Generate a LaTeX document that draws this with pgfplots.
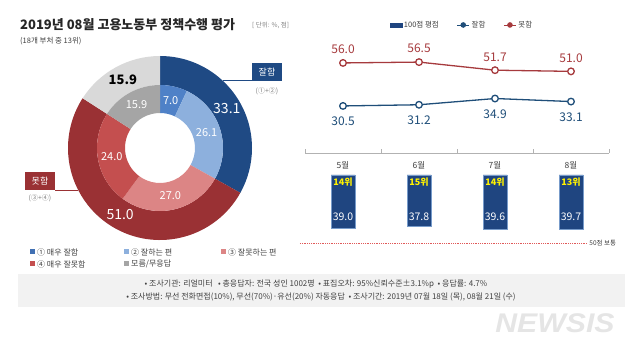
\documentclass[border=0pt]{standalone}
\usepackage{fontspec}
\setmainfont{Noto Sans CJK KR}
\newfontfamily\logofont{Liberation Sans}
\usepackage{pgfplots}
\pgfplotsset{compat=1.18}
\usepackage{pgfplotstable}
\pgfplotsset{/pgf/number format/assume math mode=true}

\definecolor{navyA}{HTML}{1F4A84}
\definecolor{blueB}{HTML}{4F81C7}
\definecolor{blueC}{HTML}{8DB0DD}
\definecolor{redC}{HTML}{DC8585}
\definecolor{redB}{HTML}{C44F4F}
\definecolor{redA}{HTML}{9A3134}
\definecolor{grayA}{HTML}{D9D9D9}
\definecolor{grayB}{HTML}{A5A5A5}
\definecolor{lineBlue}{HTML}{1F4E79}
\definecolor{lineRed}{HTML}{A63A3D}
\definecolor{barBlue}{HTML}{1F4580}
\definecolor{dotRed}{HTML}{E05A5A}
\definecolor{txt}{HTML}{404040}
\definecolor{foot}{HTML}{F2F2F2}

\pgfplotsset{circlegend/.style={legend image code/.code={\draw[##1, mark size=2.3pt, line width=0.9pt, mark options={line width=0.9pt}, mark repeat=2, mark phase=2] plot coordinates {(0pt,0pt) (6pt,0pt) (12pt,0pt)};}}}

% donut segment: colour, start(%), value(%), inner r, outer r, label style
\newcommand{\seg}[6]{%
 \fill[#1] ([shift={({90-3.6*(#2)}:#5pt)}]axis cs:0,0) arc[start angle={90-3.6*(#2)}, end angle={90-3.6*(#2+#3)}, radius=#5pt] -- ([shift={({90-3.6*(#2+#3)}:#4pt)}]axis cs:0,0) arc[start angle={90-3.6*(#2+#3)}, end angle={90-3.6*(#2)}, radius=#4pt] -- cycle;
 \node[#6] at ([shift={({90-3.6*(#2+#3/2)}:{(#4+#5)/2*1pt})}]axis cs:0,0) {#3};}

\pgfplotstableread{
x val rank
1 39.0 14위
2 37.8 15위
3 39.6 14위
4 39.7 13위
}\scoretab

\begin{document}
\begin{tikzpicture}[x=1pt,y=1pt]
\path[use as bounding box] (0pt,0pt) rectangle (640pt,353pt);

% titles
\node[anchor=base west, inner sep=0, font=\fontsize{13}{15}\selectfont\bfseries, text=black!85] at (20pt,323pt) {2019년 08월 고용노동부 정책수행 평가};
\node[anchor=west, inner sep=0, font=\fontsize{6.5}{8}\selectfont, text=gray] at (252pt,328pt) {[ 단위: \%, 점]};
\node[anchor=west, inner sep=0, font=\fontsize{7.5}{9}\selectfont, text=txt] at (20pt,312pt) {(18개 부처 중 13위)};

% donut
\begin{axis}[at={(68pt,113pt)}, anchor=south west, scale only axis, width=184pt, height=184pt,
  xmin=-1, xmax=1, ymin=-1, ymax=1, hide axis, clip=false]
\seg{navyA}{0}{33.1}{63}{92}{text=white, font=\fontsize{14}{16}\selectfont}
\seg{redA}{33.1}{51.0}{63}{92}{text=white, font=\fontsize{14}{16}\selectfont}
\seg{grayA}{84.1}{15.9}{63}{92}{text=black, font=\fontsize{13}{15}\selectfont\bfseries}
\seg{blueB}{0}{7.0}{35}{63}{text=white, font=\fontsize{11}{13}\selectfont}
\seg{blueC}{7.0}{26.1}{35}{63}{text=white, font=\fontsize{11}{13}\selectfont}
\seg{redC}{33.1}{27.0}{35}{63}{text=white, font=\fontsize{11}{13}\selectfont}
\seg{redB}{60.1}{24.0}{35}{63}{text=white, font=\fontsize{11}{13}\selectfont}
\seg{grayB}{84.1}{15.9}{35}{63}{text=white, font=\fontsize{11}{13}\selectfont}
\end{axis}

% group labels
\draw[navyA, line width=0.8pt] (223pt,273pt) -- (252pt,273pt);
\node[fill=navyA, text=white, font=\fontsize{9}{10}\selectfont, minimum width=30pt, minimum height=18pt, inner sep=0] at (267pt,281pt) {잘함};
\node[font=\fontsize{7}{8}\selectfont, text=gray, inner sep=0] at (267pt,262pt) {(①+②)};
\draw[redA, line width=0.8pt] (55pt,163pt) -- (78pt,163pt);
\node[fill=redA, text=white, font=\fontsize{9}{10}\selectfont, minimum width=30pt, minimum height=18pt, inner sep=0] at (40pt,172pt) {못함};
\node[font=\fontsize{7}{8}\selectfont, text=gray, inner sep=0] at (40pt,155pt) {(③+④)};

% donut legend
\begin{scope}[every node/.style={anchor=west, inner sep=0, font=\fontsize{8}{9}\selectfont, text=txt}]
\fill[blueB!70!navyA] (29.5pt,98.5pt) rectangle ++(5pt,5pt); \node at (37pt,101pt) {① 매우 잘함};
\fill[blueC] (123.5pt,98.5pt) rectangle ++(5pt,5pt); \node at (131pt,101pt) {② 잘하는 편};
\fill[redC] (220.5pt,98.5pt) rectangle ++(5pt,5pt); \node at (228pt,101pt) {③ 잘못하는 편};
\fill[redB] (29.5pt,86.5pt) rectangle ++(5pt,5pt); \node at (37pt,89pt) {④ 매우 잘못함};
\fill[grayB] (123.5pt,86.5pt) rectangle ++(5pt,5pt); \node at (131pt,89pt) {모름/무응답};
\end{scope}

% line chart
\begin{axis}[at={(305pt,200pt)}, anchor=south west, scale only axis, width=304pt, height=113pt,
  xmin=0.5, xmax=4.5, ymin=2.6, ymax=69.6, hide y axis, axis x line=bottom,
  x axis line style={-, draw=gray!60, line width=0.8pt},
  xtick={0.5,1.5,2.5,3.5,4.5}, xticklabels={}, xtick align=inside, major tick length=4pt,
  x tick style={draw=gray!60, line width=0.8pt},
  extra x ticks={1,2,3,4}, extra x tick labels={5월,6월,7월,8월},
  extra x tick style={major tick length=0pt, tick label style={font=\fontsize{8.5}{10}\selectfont, text=txt, yshift=-5pt}},
  clip=false,
  legend columns=3,
  legend style={at={(0.516,1.133)}, anchor=center, draw=none, fill=none, font=\fontsize{7.5}{9}\selectfont, text=txt,
    /tikz/every even column/.append style={column sep=16pt}},
  nodes near coords={\pgfmathprintnumber[fixed, fixed zerofill, precision=1]{\pgfplotspointmeta}}]
\addlegendimage{legend image code/.code={\fill[barBlue] (0pt,-2pt) rectangle (12pt,2pt);}}
\addlegendentry{100점 평점}
\addplot[lineBlue, line width=1.3pt, mark=*, mark size=3.3pt, mark options={fill=white, line width=1.3pt},
  every node near coord/.append style={text=lineBlue, font=\fontsize{12}{14}\selectfont, yshift=-24pt},
  circlegend]
  coordinates {(1,30.5) (2,31.2) (3,34.9) (4,33.1)};
\addlegendentry{잘함}
\addplot[lineRed, line width=1.3pt, mark=*, mark size=3.3pt, mark options={fill=white, line width=1.3pt},
  every node near coord/.append style={text=lineRed, font=\fontsize{12}{14}\selectfont, yshift=5pt},
  circlegend]
  coordinates {(1,56.0) (2,56.5) (3,51.7) (4,51.0)};
\addlegendentry{못함}
\end{axis}

% bars (100점 평점), drawn downward
\begin{axis}[at={(305pt,110pt)}, anchor=south west, scale only axis, width=304pt, height=68pt,
  xmin=0.5, xmax=4.5, ymin=0, ymax=50, y dir=reverse, hide axis, clip=false]
\addplot[ybar, bar width=24pt, bar shift=0pt, fill=barBlue, draw=blueC!80!barBlue, line width=0.5pt] table[x=x, y=val] {\scoretab};
\addplot[draw=none, mark=none, point meta=explicit symbolic, nodes near coords,
  every node near coord/.append style={anchor=center, text=white, font=\fontsize{10.5}{12}\selectfont}]
  table[x=x, y expr=30.7, meta=val] {\scoretab};
\addplot[draw=none, mark=none, point meta=explicit symbolic, nodes near coords,
  every node near coord/.append style={anchor=center, text=yellow, font=\fontsize{9}{10}\selectfont\bfseries}]
  table[x=x, y expr=5.2, meta=rank] {\scoretab};
\draw[dotRed, densely dotted, line width=0.8pt] (axis cs:0.434,50) -- (axis cs:4.22,50);
\node[anchor=west, inner sep=0, font=\fontsize{6.5}{8}\selectfont, text=txt] at (axis cs:4.24,50) {50점 보통};
\end{axis}

% footer
\fill[foot] (18pt,46pt) rectangle (625pt,79pt);
\node[font=\fontsize{8}{9}\selectfont, text=txt, inner sep=0] at (316pt,69pt) {• 조사기관: 리얼미터 \ \ • 총응답자: 전국 성인 1002명 \ • 표집오차: 95\%신뢰수준±3.1\%p \ • 응답률: 4.7\%};
\node[font=\fontsize{8}{9}\selectfont, text=txt, inner sep=0] at (321pt,56pt) {• 조사방법: 무선 전화면접(10\%), 무선(70\%)·유선(20\%) 자동응답 \ • 조사기간: 2019년 07월 18일 (목), 08월 21일 (수)};

% watermark
\node[font=\logofont\fontsize{27}{30}\selectfont\bfseries\itshape, text=gray!20, inner sep=0, xscale=1.12] at (555pt,30pt) {NEWSIS};
\end{tikzpicture}
\end{document}
